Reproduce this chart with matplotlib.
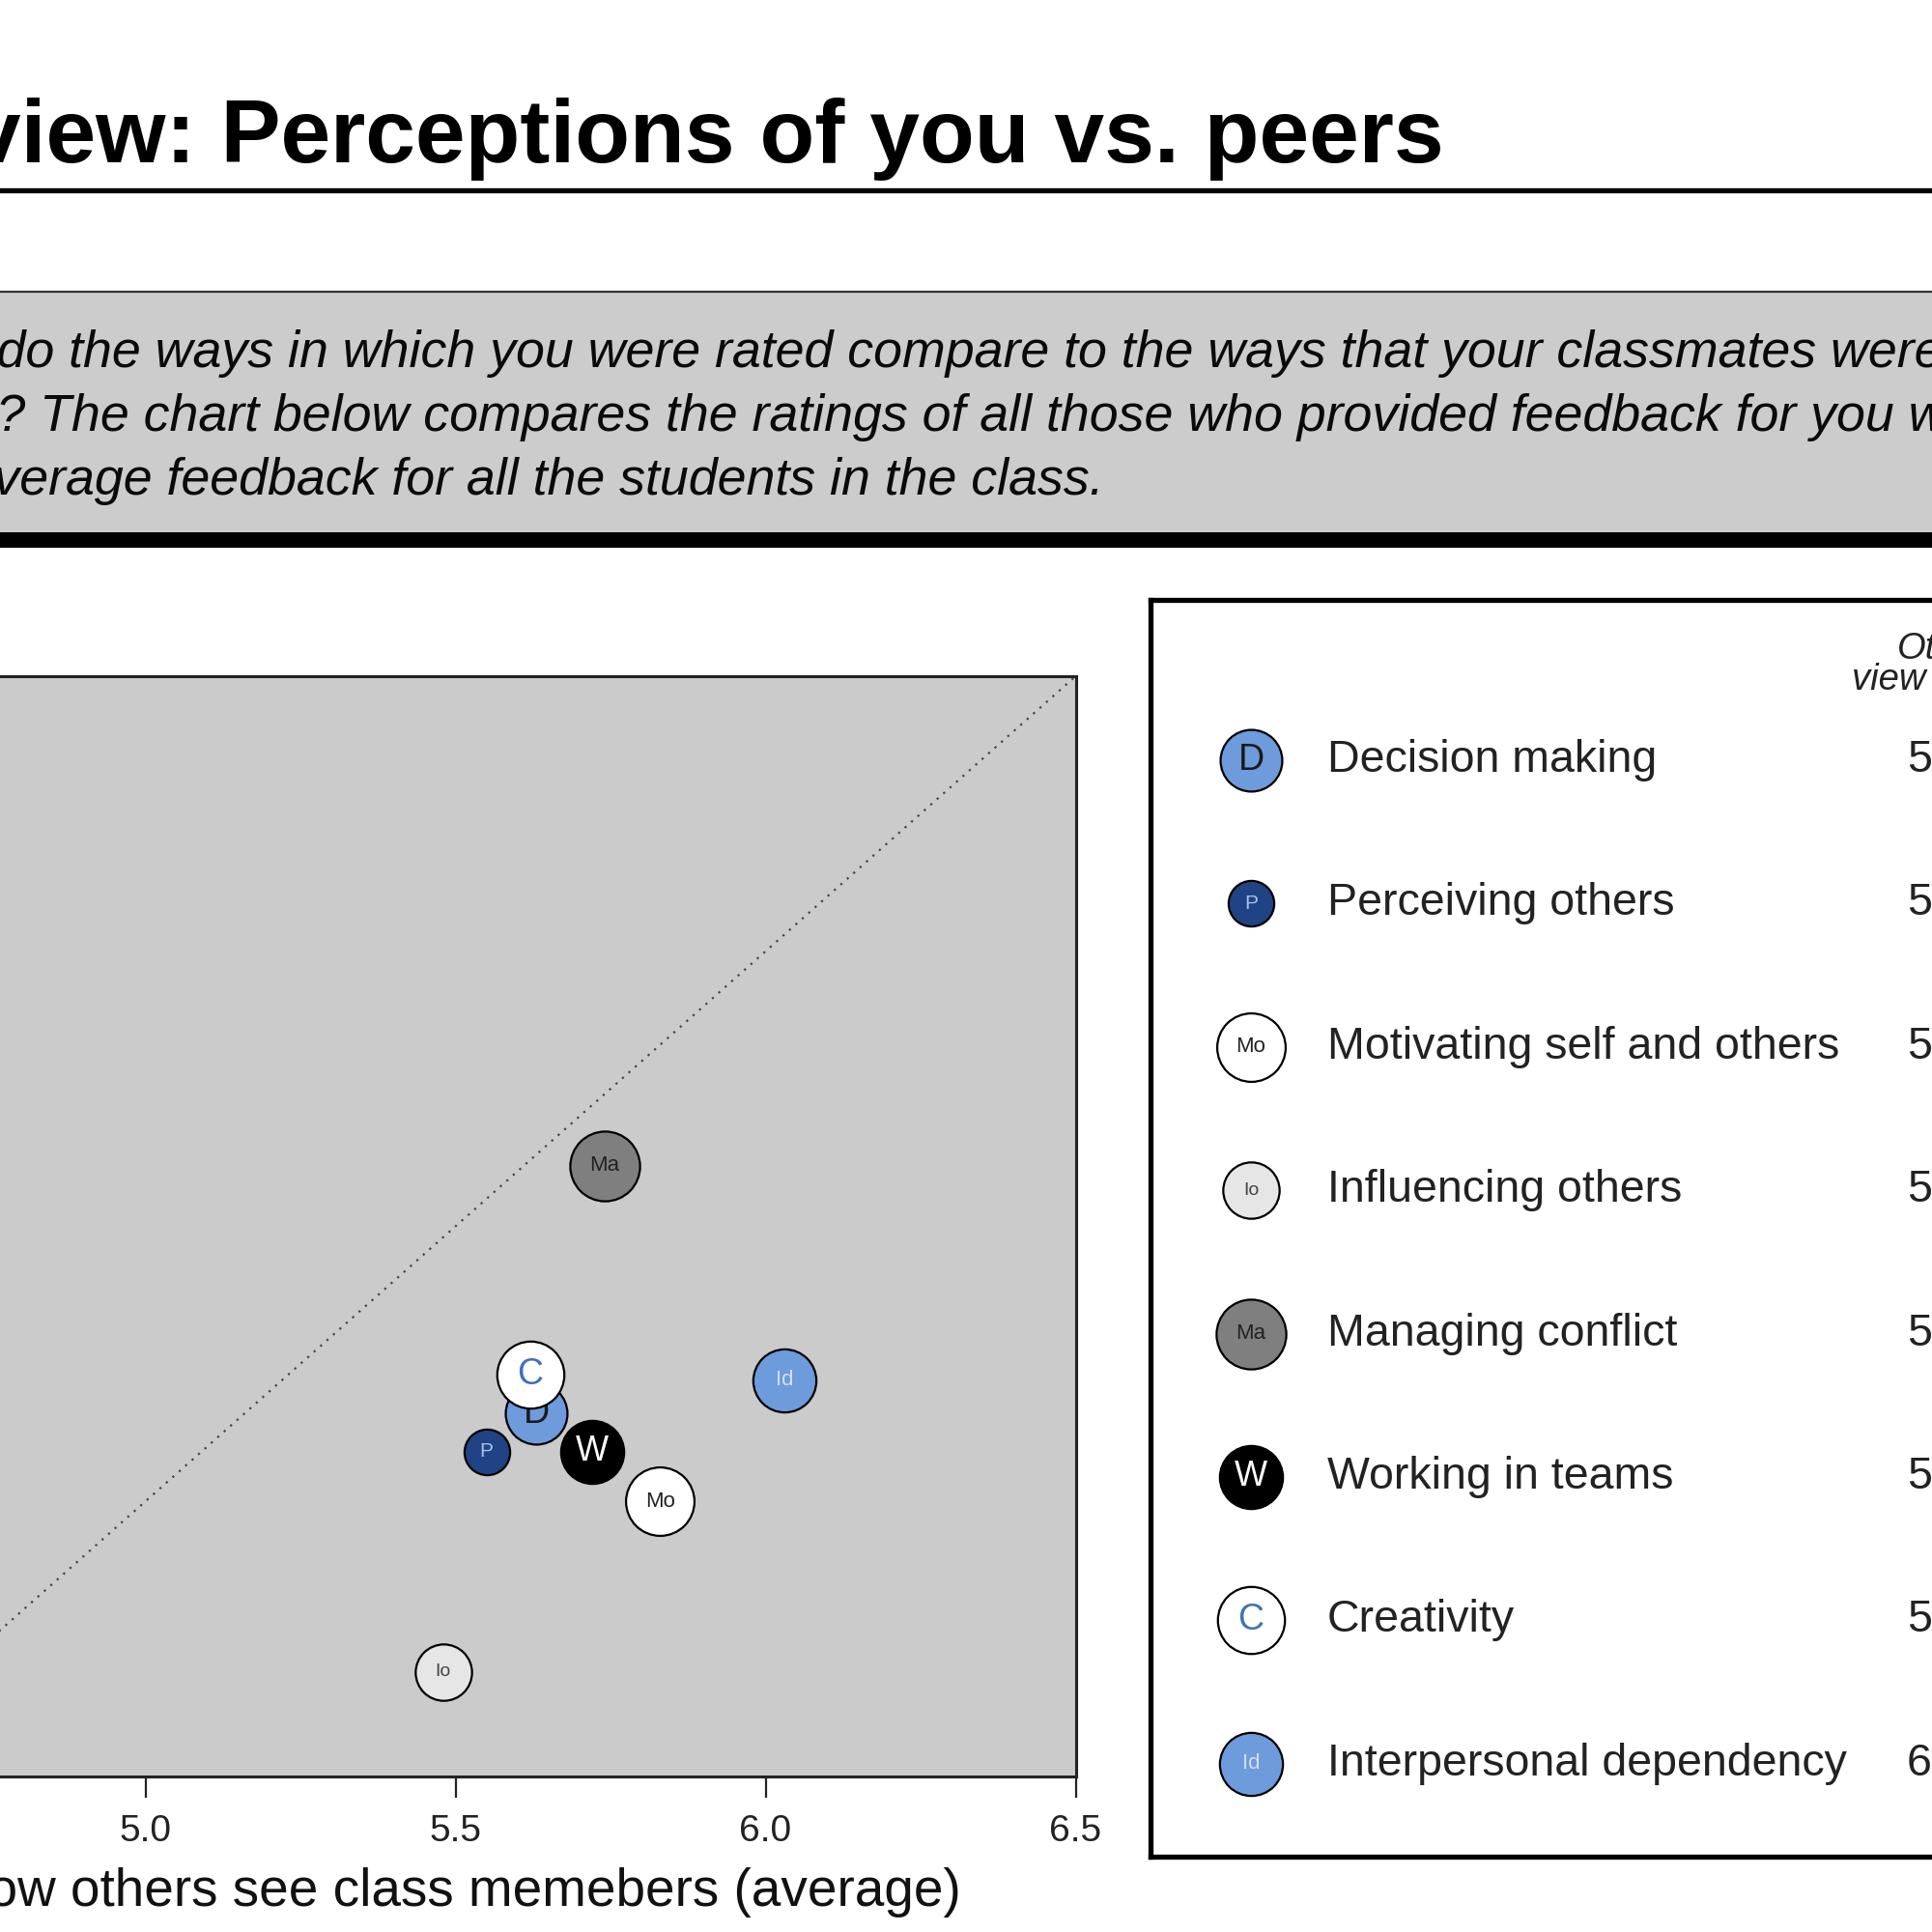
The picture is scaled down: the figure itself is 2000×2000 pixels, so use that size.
import matplotlib
matplotlib.use("Agg")
import matplotlib.pyplot as plt
from matplotlib.patches import Rectangle
from matplotlib.lines import Line2D

plt.rcParams['font.family'] = ['Liberation Sans', 'DejaVu Sans']

# data
skills = ["Decision making", "Perceiving others", "Motivating self and others",
          "Influencing others", "Managing conflict", "Working in teams",
          "Creativity", "Interpersonal dependency"]
codes = ["D", "P", "Mo", "Io", "Ma", "W", "C", "Id"]
class_avg = [5.63, 5.55, 5.83, 5.48, 5.74, 5.72, 5.62, 6.03]
you_avg = [5.16, 5.09, 5.00, 4.69, 5.61, 5.09, 5.23, 5.22]
x_ticks = [5.0, 5.5, 6.0, 6.5]
y_ticks = [4.5, 5.0, 5.5, 6.0, 6.5]

title = "Overview: Perceptions of you vs. peers"
intro = ["How do the ways in which you were rated compare to the ways that your classmates were",
         "rated? The chart below compares the ratings of all those who provided feedback for you with",
         "the average feedback for all the students in the class."]

# styles
face = ["#6d9bdb", "#1f4384", "#ffffff", "#e6e6e6", "#7f7f7f", "#000000", "#ffffff", "#6d9bdb"]
text_col = ["#1a1a1a", "#a9c1ea", "#222222", "#444444", "#222222", "#ffffff", "#3f72ba", "#d0e0f5"]
marker_pt = [46, 34, 51, 42, 52, 47, 50, 47]
code_fs = [27, 15, 16, 14, 16, 26, 27, 16]

W = 2000.0
fy = lambda py: 1 - py / W
fx = lambda px: px / W

fig = plt.figure(figsize=(20, 20), dpi=100)

# title + underline
fig.text(fx(1495), fy(168), title, ha="right", va="baseline",
         fontsize=67, fontweight="bold", color="black")
fig.add_artist(Line2D([-0.05, 1.05], [fy(197), fy(197)], color="black", lw=3.8,
                      transform=fig.transFigure))

# grey intro box
fig.add_artist(Rectangle((-0.05, fy(551)), 1.1, (551 - 302) / W, facecolor="#cccccc",
                         edgecolor="none", transform=fig.transFigure))
fig.add_artist(Line2D([-0.05, 1.05], [fy(302), fy(302)], color="#333333", lw=1.6,
                      transform=fig.transFigure))
fig.add_artist(Rectangle((-0.05, fy(567)), 1.1, 16 / W, facecolor="black",
                         edgecolor="none", transform=fig.transFigure))
for i, line in enumerate(intro):
    fig.text(fx(-126), fy(380 + 66 * i), line, ha="left", va="baseline",
             fontsize=38.7, fontstyle="italic", color="#0a0a0a")

# scatter panel
ax = fig.add_axes([fx(-170.5), fy(1839), 1284 / W, 1139 / W])
ax.set_facecolor("#cbcbcb")
ax.set_xlim(4.5, 6.5)
ax.set_ylim(4.5, 6.5)
ax.plot([4.5, 6.5], [4.5, 6.5], color="#444444", lw=1.6, linestyle=(0, (1, 3)), zorder=1)
for i in range(len(codes)):
    ax.scatter(class_avg[i], you_avg[i], s=marker_pt[i] ** 2, facecolor=face[i],
               edgecolor="black", linewidth=1.6, zorder=2 + 2 * i)
    ax.text(class_avg[i], you_avg[i], codes[i], ha="center", va="center",
            fontsize=code_fs[i], color=text_col[i], zorder=3 + 2 * i)
ax.set_xticks(x_ticks)
ax.set_xticklabels([f"{t:.1f}" for t in x_ticks])
ax.set_yticks(y_ticks)
ax.tick_params(axis="both", labelsize=28, length=16, width=1.6, pad=12, colors="#222222")
ax.set_xlabel("How others see class memebers (average)", fontsize=39.5, labelpad=14,
              color="#111111")
ax.set_ylabel("How others see you", fontsize=38)
for sp in ax.spines.values():
    sp.set_linewidth(2.2)
    sp.set_color("#222222")

# legend panel
lg = fig.add_axes([fx(1191), fy(1922), 1200 / W, (1922 - 621) / W])
lg.set_xlim(0, 1200)
lg.set_ylim(7.65, -1.12)
lg.set_xticks([])
lg.set_yticks([])
for sp in lg.spines.values():
    sp.set_linewidth(3.8)
    sp.set_color("black")
lg.text(834, -0.67, "Others'\nview of class", ha="center", va="center", fontsize=27.5,
        fontstyle="italic", color="#222222", linespacing=0.85)
for i in range(len(codes)):
    lg.scatter(104, i, s=marker_pt[i] ** 2, facecolor=face[i], edgecolor="black",
               linewidth=1.6, zorder=2, clip_on=False)
    lg.text(104, i, codes[i], ha="center", va="center", fontsize=code_fs[i],
            color=text_col[i], zorder=3)
    lg.text(183, i, skills[i], ha="left", va="center", fontsize=33.5, color="#222222")
    lg.text(783, i, f"{class_avg[i]:.2f}", ha="left", va="center", fontsize=33.5,
            color="#222222")

fig.savefig("out.png", dpi=100)
